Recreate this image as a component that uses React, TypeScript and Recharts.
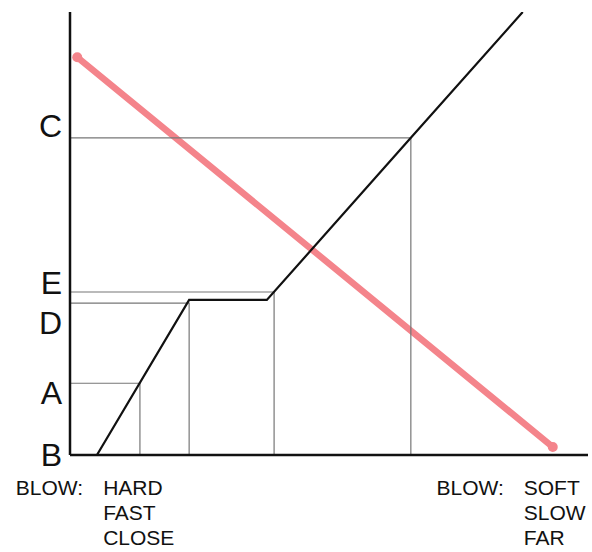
import { LineChart, Line, XAxis, YAxis } from 'recharts'

document.body.style.margin = '0'

// response curve (black) and blow trend (pink), both on a 0..100 grid
const curveX = [5.2, 23.0, 38.0, 65.8, 87.4]
const curveY = [0, 35.0, 35.0, 71.6, 100]
const blowX = [1.4, 93.2]
const blowY = [89.8, 1.8]

// guide levels
const guideNames = ['A', 'D', 'E', 'C']
const guideX = [13.5, 23.0, 39.4, 65.8]
const guideY = [16.2, 34.3, 36.8, 71.6]

// y axis letters sit a little off their guide lines
const yTickLabels = ['B', 'A', 'D', 'E', 'C']
const yTickValues = [0, 14.0, 29.8, 38.8, 74.4]

const xTickValues = [6.4, 87.6]
const xTickGroups = [
  ['HARD', 'FAST', 'CLOSE'],
  ['SOFT', 'SLOW', 'FAR'],
]
const blowLabel = 'BLOW:'

const curveData = curveX.map((x, i) => ({ x, y: curveY[i] }))
const blowData = blowX.map((x, i) => ({ x, y: blowY[i] }))
const guides = guideNames.map((name, i) => ({
  name,
  data: [
    { x: 0, y: guideY[i] },
    { x: guideX[i], y: guideY[i] },
    { x: guideX[i], y: 0 },
  ],
}))

const FONT = '"Liberation Sans", Arial, sans-serif'

function BlowTick({ x, y, payload }: any) {
  const idx = xTickValues.indexOf(payload.value)
  const lines = xTickGroups[idx] || []
  return (
    <g fontFamily={FONT} fontSize={21} fill="#111">
      <text x={x - 20} y={y + 32} textAnchor="end">
        {blowLabel}
      </text>
      {lines.map((t, i) => (
        <text key={t} x={x} y={y + 32 + i * 25} textAnchor="start">
          {t}
        </text>
      ))}
    </g>
  )
}

export default function App() {
  return (
    <div style={{ fontFamily: FONT }}>
      <LineChart
        width={592}
        height={552}
        margin={{ top: 12, right: 4, left: 0, bottom: 0 }}
      >
        <XAxis
          type="number"
          dataKey="x"
          domain={[0, 100]}
          allowDataOverflow
          ticks={xTickValues}
          tick={<BlowTick />}
          tickLine={false}
          axisLine={{ stroke: '#111', strokeWidth: 2.5 }}
          height={97}
        />
        <YAxis
          type="number"
          dataKey="y"
          domain={[0, 100]}
          allowDataOverflow
          ticks={yTickValues}
          interval={0}
          tickFormatter={(v: number) => yTickLabels[yTickValues.indexOf(v)] ?? ''}
          tick={{ fill: '#111', fontSize: 32, fontFamily: FONT }}
          tickLine={false}
          axisLine={{ stroke: '#111', strokeWidth: 2.5 }}
          width={70}
        />
        <Line
          data={blowData}
          dataKey="y"
          type="linear"
          stroke="#f4848b"
          strokeWidth={6.5}
          strokeLinecap="round"
          dot={{ r: 5, fill: '#f4848b', stroke: 'none' }}
          isAnimationActive={false}
        />
        {guides.map(g => (
          <Line
            key={g.name}
            data={g.data}
            dataKey="y"
            type="linear"
            stroke="#777"
            strokeWidth={1.2}
            dot={false}
            isAnimationActive={false}
          />
        ))}
        <Line
          data={curveData}
          dataKey="y"
          type="linear"
          stroke="#111"
          strokeWidth={2.2}
          dot={false}
          isAnimationActive={false}
        />
      </LineChart>
    </div>
  )
}
